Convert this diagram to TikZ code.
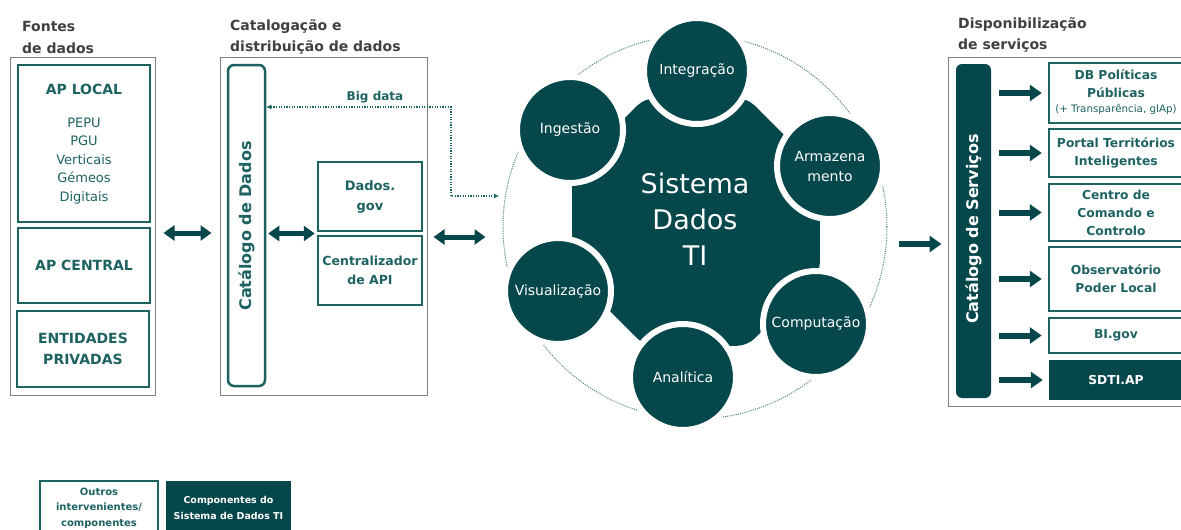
\documentclass[tikz,border=0pt]{standalone}
\usepackage{fontspec}
\setmainfont{DejaVu Sans}
\usetikzlibrary{arrows.meta,shapes.geometric,calc}
\definecolor{dark}{HTML}{05474B}
\definecolor{tealc}{HTML}{1E6262}
\definecolor{headc}{HTML}{404040}
\definecolor{framec}{HTML}{7F7F7F}
\newcommand{\fsz}[2]{\fontsize{#1}{#2}\selectfont}
\begin{document}
\begin{tikzpicture}[x=1pt,y=-1pt,
  frame/.style={draw=framec, line width=1pt, inner sep=0pt},
  tbox/.style={draw=tealc, line width=2.5pt, fill=white, inner sep=0pt},
  tbold/.style={text=tealc, font=\bfseries\fsz{14}{21}, align=center},
  treg/.style={text=tealc, font=\fsz{13}{18.5}, align=center},
  rt/.style={text=tealc, font=\bfseries\fsz{12.3}{18}, align=center},
  head/.style={text=headc, font=\bfseries\fsz{14}{21.5}, align=left, inner sep=0pt},
  sat/.style={circle, fill=dark, draw=white, line width=6pt, minimum size=106pt, inner sep=0pt, text=white, font=\fsz{14}{20}, align=center},
  dblarr/.style={draw=dark, line width=5pt, {Triangle[length=11pt,width=15pt]}-{Triangle[length=11pt,width=15pt]}},
  fatarr/.style={draw=dark, line width=6pt, -{Triangle[length=12pt,width=16pt]}},
  dotarr/.style={draw=tealc, line width=1.3pt, dash pattern=on 1.3pt off 1.3pt, {Latex[length=5pt,width=5pt]}-{Latex[length=5pt,width=5pt]}}
]
\useasboundingbox (0,0) rectangle (1181,530);
\clip (0,0) rectangle (1181,530);
\fill[white] (0,0) rectangle (1181,530);

% ---------- headings
\node[head, anchor=north west] (h1) at (22,21.5) {Fontes\\de dados};
\node[head, anchor=north west] (h2) at (230,19) {Catalogação e\\distribuição de dados};
\node[head, anchor=north west] (h3) at (958,17) {Disponibilização\\de serviços};

% ---------- left column
\node[frame, minimum width=145pt, minimum height=338pt] (src) at (82.5,226) {};
\node[tbox, minimum width=132pt, minimum height=157pt] (aplocal) at (84,143.5) {};
\node[tbold] (aplocalt) at (84,89) {AP LOCAL};
\node[treg] (aplocall) at (84,161) {PEPU\\PGU\\Verticais\\Gémeos\\Digitais};
\node[tbox, tbold, minimum width=132pt, minimum height=75pt] (apcentral) at (84,265.5) {AP CENTRAL};
\node[tbox, tbold, minimum width=132pt, minimum height=76pt] (entid) at (83,349) {ENTIDADES\\PRIVADAS};

% ---------- middle column
\node[frame, minimum width=207pt, minimum height=338pt] (mid) at (323.5,226) {};
\node[tbox, rounded corners=6pt, minimum width=37pt, minimum height=321pt] (catdados) at (246.5,225.5) {};
\node[rotate=90, text=tealc, font=\bfseries\fsz{16}{19}] (catdadost) at (246.5,226) {Catálogo de Dados};
\node[tbox, text=tealc, font=\bfseries\fsz{13}{20}, align=center, minimum width=104pt, minimum height=69pt] (dadosgov) at (370,196.5) {Dados.\\gov};
\node[tbox, text=tealc, font=\bfseries\fsz{12.5}{19}, align=center, minimum width=104pt, minimum height=69pt] (api) at (370,270.5) {Centralizador\\de API};
\node[text=tealc, font=\bfseries\fsz{12}{14}] (bigdata) at (375,97) {Big data};

% ---------- central system
\node[circle, draw=tealc!80, line width=1pt, dash pattern=on 1pt off 1.2pt, minimum size=384pt, inner sep=0pt] (ring) at (695,227) {};
\node[regular polygon, regular polygon sides=8, fill=dark, rounded corners=10pt, minimum size=268pt, inner sep=0pt] (core) at (696,222) {};
\node[text=white, font=\fsz{27}{36}, align=center] (coret) at (695,219) {Sistema\\Dados\\TI};
\node[sat] (integ) at (697,71) {Integração};
\node[sat] (ingest) at (570,130) {Ingestão};
\node[sat] (armaz) at (830,166) {Armazena\\mento};
\node[sat] (comput) at (816,324) {Computação};
\node[sat] (anal) at (683,377) {Analítica};
\node[sat] (visual) at (558,291) {Visualização};

% ---------- right column
\node[frame, minimum width=238pt, minimum height=349pt] (rbox) at (1067,231.5) {};
\node[fill=dark, rounded corners=6pt, minimum width=35pt, minimum height=334pt, inner sep=0pt] (catserv) at (973.5,231) {};
\node[rotate=90, text=white, font=\bfseries\fsz{16}{19}] (catservt) at (973.5,229) {Catálogo de Serviços};
\node[tbox, minimum width=134pt, minimum height=60pt] (db) at (1116,93) {};
\node[rt] (dbt) at (1116,84) {DB Políticas\\Públicas};
\node[text=tealc, font=\fsz{10.3}{12}] (dbs) at (1116,109) {(+ Transparência, gIAp)};
\node[tbox, rt, minimum width=134pt, minimum height=48pt] (portal) at (1116,153) {Portal Territórios\\Inteligentes};
\node[tbox, rt, minimum width=134pt, minimum height=57pt] (centro) at (1116,212.5) {Centro de\\Comando e\\Controlo};
\node[tbox, rt, minimum width=134pt, minimum height=64pt] (obs) at (1116,279) {Observatório\\Poder Local};
\node[tbox, rt, minimum width=134pt, minimum height=35pt] (bi) at (1116,335.5) {BI.gov};
\node[fill=dark, text=white, font=\bfseries\fsz{12.3}{18}, minimum width=134pt, minimum height=40pt, inner sep=0pt] (sdti) at (1116,380) {SDTI.AP};

% ---------- legend
\node[tbox, text=tealc, font=\bfseries\fsz{10}{15.5}, align=center, minimum width=118pt, minimum height=54pt] (leg1) at (99,508) {Outros\\intervenientes/\\componentes};
\node[fill=dark, text=white, font=\bfseries\fsz{9.5}{16}, align=center, minimum width=125pt, minimum height=54pt, inner sep=0pt] (leg2) at (228.5,508) {Componentes do\\Sistema de Dados TI};

% ---------- connectors
\draw[dblarr, shorten <=8pt, shorten >=8pt] ([yshift=-7pt]src.east) -- ([yshift=-7pt]mid.west);
\coordinate (junc) at ($(dadosgov.south west)!0.5!(api.north west)$);
\draw[dblarr, shorten <=2pt, shorten >=2pt] (catdados.east |- junc) -- (junc);
\draw[dblarr, shorten <=6pt, shorten >=17pt] ([yshift=-11pt]mid.east) -- ([yshift=-11pt]mid.east -| ring.west);
\coordinate (bdturn) at (451,107);
\coordinate (bdend) at (499,196);
\draw[dotarr] (catdados.east |- bdturn) -- (bdturn) |- (bdend);
\draw[fatarr, shorten <=11pt, shorten >=6pt] ([yshift=-17pt]ring.east) -- ([yshift=-17pt]ring.east -| rbox.west);
\foreach \b in {db,portal,centro,obs,bi,sdti}
  \draw[fatarr, shorten <=8pt, shorten >=6pt] (catserv.east |- \b.west) -- (\b.west);
\end{tikzpicture}
\end{document}
